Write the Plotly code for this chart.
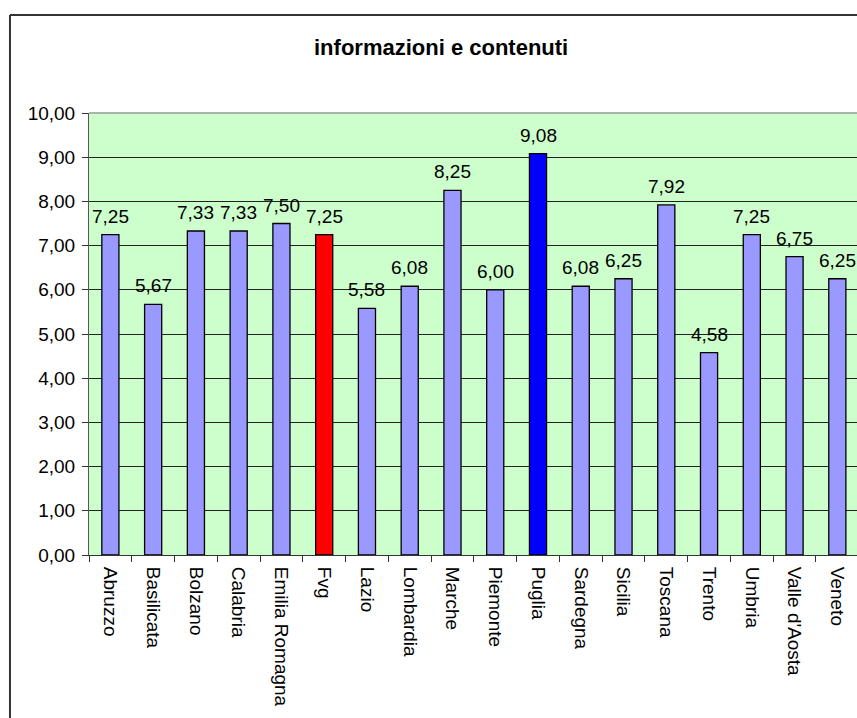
import plotly.graph_objects as go

# Regional scores for "informazioni e contenuti"
regions = ["Abruzzo", "Basilicata", "Bolzano", "Calabria", "Emilia Romagna", "Fvg",
           "Lazio", "Lombardia", "Marche", "Piemonte", "Puglia", "Sardegna",
           "Sicilia", "Toscana", "Trento", "Umbria", "Valle d'Aosta", "Veneto"]
scores = [7.25, 5.67, 7.33, 7.33, 7.50, 7.25, 5.58, 6.08, 8.25, 6.00,
          9.08, 6.08, 6.25, 7.92, 4.58, 7.25, 6.75, 6.25]

# Highlighted regions
highlight = {"Fvg": "#FF0000", "Puglia": "#0000FF"}
base_color = "#9999FF"
colors = [highlight.get(r, base_color) for r in regions]

y_ticks = [0, 1, 2, 3, 4, 5, 6, 7, 8, 9, 10]

FONT = "Liberation Sans, Arial, sans-serif"

fig = go.Figure()
fig.add_trace(go.Bar(
    x=regions,
    y=scores,
    marker=dict(color=colors, line=dict(color="#000000", width=1.3)),
    width=0.4,
    hoverinfo="x+y",
))

# value labels above each bar
value_labels = [
    dict(x=r, y=v, xref="x", yref="y",
         text=f"{v:.2f}".replace(".", ","),
         showarrow=False, xanchor="center", yanchor="bottom", yshift=6,
         font=dict(family=FONT, size=19, color="#000000"))
    for r, v in zip(regions, scores)
]

title = dict(
    text="<b>informazioni e contenuti</b>",
    xref="paper", yref="paper",
    x=0.458, y=1.149,
    xanchor="center", yanchor="middle",
    showarrow=False,
    font=dict(family=FONT, size=22, color="#000000"),
)

fig.update_layout(
    width=857,
    height=718,
    margin=dict(l=89, r=0, t=113, b=163),
    paper_bgcolor="#FFFFFF",
    plot_bgcolor="#CCFFCC",
    separators=",.",
    showlegend=False,
    font=dict(family=FONT, size=19, color="#000000"),
    xaxis=dict(
        type="category",
        range=[-0.5, 17.46],
        tickangle=90,
        ticks="outside",
        tickson="boundaries",
        ticklen=6,
        tickcolor="#333333",
        showline=True,
        linecolor="#333333",
        linewidth=1,
        showgrid=False,
        ticklabelstandoff=7,
        tickfont=dict(family=FONT, size=19, color="#000000"),
    ),
    yaxis=dict(
        range=[0, 10],
        tickvals=y_ticks,
        tickformat=".2f",
        ticks="outside",
        ticklen=6,
        tickcolor="#333333",
        showline=True,
        linecolor="#555555",
        linewidth=1,
        showgrid=True,
        gridcolor="#222222",
        gridwidth=1,
        zeroline=False,
        ticklabelstandoff=3,
        tickfont=dict(family=FONT, size=19, color="#000000"),
    ),
    annotations=value_labels + [title],
    shapes=[
        # chart frame: left edge
        dict(type="line", xref="paper", yref="paper",
             x0=-0.1029, x1=-0.1029, y0=-0.6, y1=1.2217,
             line=dict(color="#333333", width=2), layer="below"),
        # chart frame: top edge
        dict(type="line", xref="paper", yref="paper",
             x0=-0.1029, x1=1.05, y0=1.2217, y1=1.2217,
             line=dict(color="#333333", width=2), layer="below"),
        # top edge of the plot area
        dict(type="line", xref="paper", yref="paper",
             x0=0, x1=1, y0=1, y1=1,
             line=dict(color="#999999", width=1.5)),
    ],
)

fig.write_html("out.html")
